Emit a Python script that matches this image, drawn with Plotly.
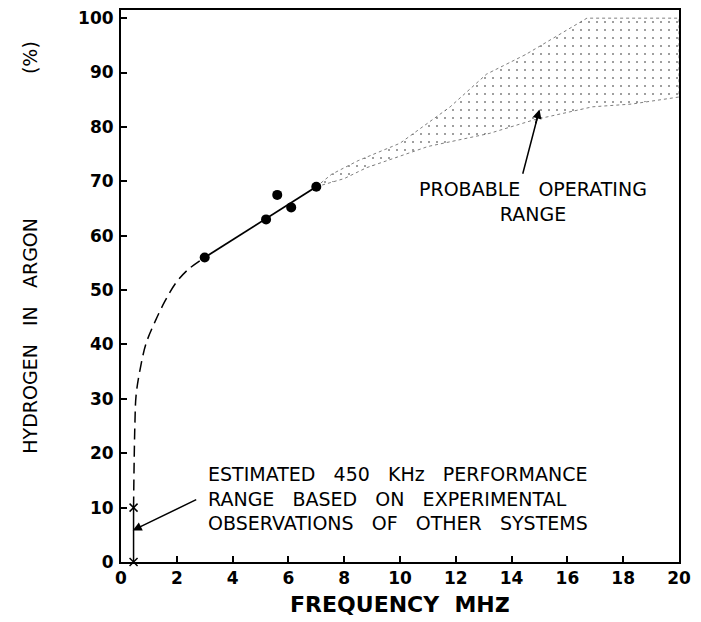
import plotly.graph_objects as go

# ---- data ----
MEAS_X = [3.0, 5.2, 5.6, 6.1, 7.0]
MEAS_Y = [56.0, 63.0, 67.5, 65.2, 69.0]

FIT_X = [3.0, 7.0]
FIT_Y = [56.0, 69.0]

EXTRAP_X = [0.45, 0.47, 0.50, 0.54, 0.68, 0.90, 1.22, 1.58, 1.98, 2.41, 3.0]
EXTRAP_Y = [10.0, 18.0, 25.7, 30.6, 35.3, 40.2, 44.2, 48.0, 51.4, 53.8, 56.0]

KHZ450_X = [0.45, 0.45]
KHZ450_Y = [0.0, 10.0]

RANGE_UPPER_X = [7.0, 7.55, 8.5, 10.0, 11.8, 13.1, 14.5, 15.9, 16.7, 20.0]
RANGE_UPPER_Y = [69.0, 71.3, 73.8, 77.0, 83.7, 89.7, 93.3, 97.6, 100.0, 100.0]
RANGE_LOWER_X = [7.0, 8.0, 8.8, 11.0, 13.2, 14.8, 16.9, 18.3, 20.0]
RANGE_LOWER_Y = [69.0, 70.5, 72.5, 76.4, 78.8, 81.3, 83.7, 84.2, 85.5]

X_TICKS = [0, 2, 4, 6, 8, 10, 12, 14, 16, 18, 20]
Y_TICKS = [0, 10, 20, 30, 40, 50, 60, 70, 80, 90, 100]

FONT = "DejaVu Sans"

fig = go.Figure()

# probable operating range (stippled region)
poly_x = RANGE_UPPER_X + RANGE_LOWER_X[::-1]
poly_y = RANGE_UPPER_Y + RANGE_LOWER_Y[::-1]
fig.add_trace(go.Scatter(
    x=poly_x, y=poly_y, mode="lines", fill="toself",
    line=dict(color="rgba(0,0,0,0.5)", width=1, dash="dot"),
    fillcolor="rgba(0,0,0,0)",
    fillpattern=dict(shape=".", fgcolor="black", bgcolor="white",
                     size=8, solidity=0.05),
    hoverinfo="skip", showlegend=False))

# extrapolated dashed curve
fig.add_trace(go.Scatter(
    x=EXTRAP_X, y=EXTRAP_Y, mode="lines",
    line=dict(color="black", width=1.5, dash="11px,6px", shape="spline"),
    showlegend=False))

# fit line
fig.add_trace(go.Scatter(
    x=FIT_X, y=FIT_Y, mode="lines",
    line=dict(color="black", width=1.8), showlegend=False))

# measured points
fig.add_trace(go.Scatter(
    x=MEAS_X, y=MEAS_Y, mode="markers",
    marker=dict(color="black", size=10), showlegend=False))

# 450 kHz range
fig.add_trace(go.Scatter(
    x=KHZ450_X, y=KHZ450_Y, mode="lines+markers",
    line=dict(color="black", width=1.5),
    marker=dict(symbol="x-thin", size=8, line=dict(color="black", width=1.5)),
    cliponaxis=False, showlegend=False))

ann_font = dict(family=FONT, size=19, color="black")

# annotations
fig.add_annotation(x=14.4, y=71.4, ax=15.0, ay=83.2, xref="x", yref="y",
                   axref="x", ayref="y", text="", showarrow=True,
                   arrowhead=0, arrowwidth=1.5, arrowcolor="black")
fig.add_annotation(x=15.0, y=83.2, ax=14.85, ay=80.4, xref="x", yref="y",
                   axref="x", ayref="y", text="", showarrow=True,
                   arrowhead=2, arrowsize=1.2, arrowwidth=1.5, arrowcolor="black")
fig.add_annotation(x=14.75, y=66.3, xref="x", yref="y",
                   text="PROBABLE   OPERATING<br>RANGE", showarrow=False,
                   font=ann_font, align="center", yanchor="middle",
                   xanchor="center")

fig.add_annotation(x=0.42, y=5.8, ax=2.75, ay=11.6, xref="x", yref="y",
                   axref="x", ayref="y", text="", showarrow=True,
                   arrowhead=2, arrowsize=1.2, arrowwidth=1.5, arrowcolor="black")
fig.add_annotation(x=3.05, y=11.6, xref="x", yref="y",
                   text="ESTIMATED   450   KHz   PERFORMANCE<br>RANGE   BASED   ON   EXPERIMENTAL<br>OBSERVATIONS   OF   OTHER   SYSTEMS",
                   showarrow=False, font=ann_font, align="left",
                   xanchor="left", yanchor="middle")

# y axis title pieces
fig.add_annotation(x=-0.163, y=0.41, xref="paper", yref="paper",
                   text="HYDROGEN   IN   ARGON", textangle=-90, showarrow=False,
                   xanchor="center", yanchor="middle",
                   font=dict(family=FONT, size=19, color="black"))
fig.add_annotation(x=-0.163, y=0.913, xref="paper", yref="paper",
                   text="(%)", textangle=-90, showarrow=False,
                   xanchor="center", yanchor="middle",
                   font=dict(family=FONT, size=19, color="black"))

# page body has an 8px default margin, so the figure is sized/offset for it
fig.update_layout(
    width=693, height=614,
    margin=dict(l=113, r=22, t=2, b=60, autoexpand=False),
    paper_bgcolor="white", plot_bgcolor="white",
    font=dict(family=FONT, color="black"),
    xaxis=dict(range=[0, 20], tickvals=X_TICKS, ticks="inside", ticklen=6,
               tickwidth=1.5, tickcolor="black", showline=True,
               linecolor="black", linewidth=2, mirror=True, showgrid=False,
               zeroline=False, automargin=False, ticklabeloverflow="allow",
               tickfont=dict(family=FONT, size=17, color="black", weight="bold"),
               title=dict(text="FREQUENCY  MH<span style='font-size:26px'>z</span>",
                          font=dict(family=FONT, size=22, color="black", weight="bold"),
                          standoff=2)),
    yaxis=dict(range=[0, 101.5], tickvals=Y_TICKS, ticks="inside", ticklen=6,
               tickwidth=1.5, tickcolor="black", showline=True,
               linecolor="black", linewidth=2, mirror=True, showgrid=False,
               zeroline=False, automargin=False, ticklabelstandoff=2,
               ticklabeloverflow="allow",
               tickfont=dict(family=FONT, size=17, color="black", weight="bold")),
)

fig.write_html("out.html")
